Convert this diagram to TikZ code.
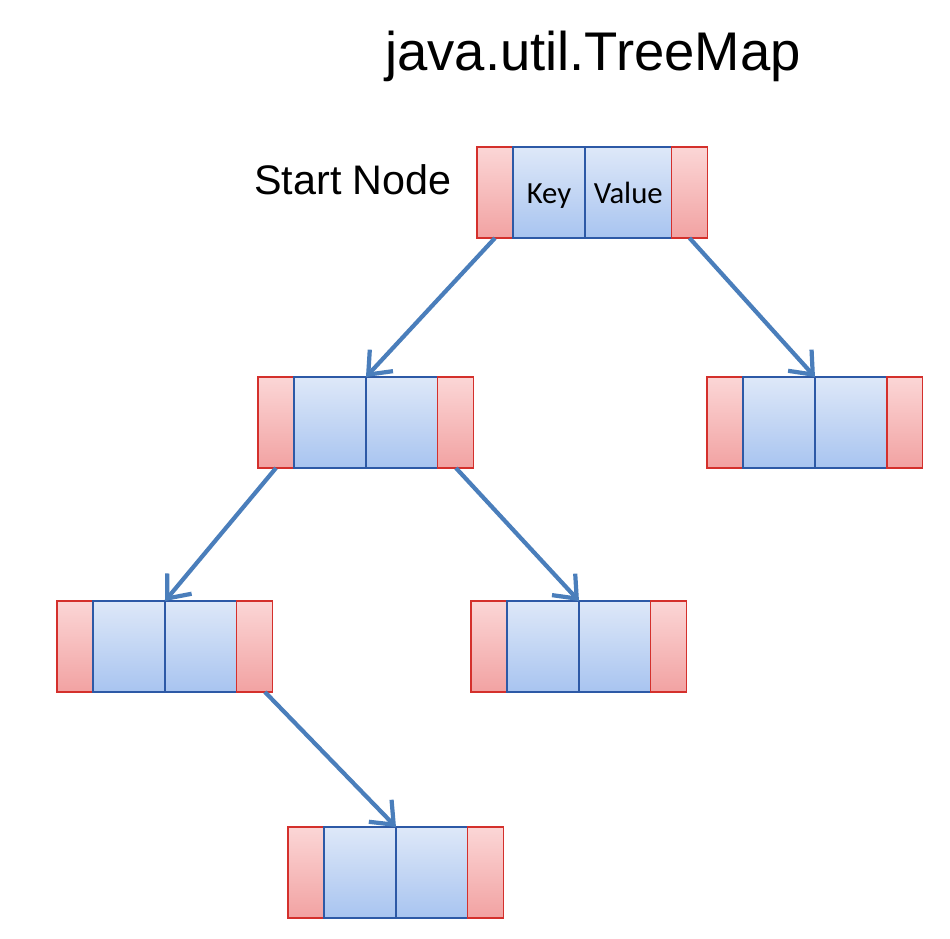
\documentclass[tikz,border=0pt]{standalone}
\usepackage{fontspec}
\setmainfont{Liberation Sans}
\newfontfamily\calibrifont{Carlito}
\usetikzlibrary{positioning, arrows.meta}

\definecolor{cellred}{HTML}{D4302C}
\definecolor{cellblue}{HTML}{2D59A6}
\definecolor{redtop}{HTML}{FBD6D6}
\definecolor{redbot}{HTML}{F2A2A2}
\definecolor{bluetop}{HTML}{DEE8F8}
\definecolor{bluebot}{HTML}{A8C4F0}
\definecolor{linkblue}{HTML}{4A7EBB}

% one map entry: left pointer, key, value, right pointer
\newcommand{\mapnode}[4]{%
	\node[redcell, anchor=north west] (#1-l) at #2 {};
	\node[bluecell, right=0pt of #1-l] (#1-k) {#3};
	\node[bluecell, right=0pt of #1-k] (#1-v) {#4};
	\node[redcell, right=0pt of #1-v] (#1-r) {};
}

\begin{document}
\begin{tikzpicture}[x=0.02cm, y=-0.02cm,
		redcell/.style={rectangle, draw=cellred, line width=0.6pt, outer sep=0pt,
			top color=redtop, bottom color=redbot, minimum width=0.72cm, minimum height=1.82cm},
		bluecell/.style={rectangle, draw=cellblue, line width=0.6pt, outer sep=0pt, inner xsep=5pt,
			top color=bluetop, bottom color=bluebot, minimum width=1.44cm, minimum height=1.82cm,
			text height=14pt, text depth=2pt, font=\calibrifont\fontsize{17.5}{20}\selectfont},
		link/.style={draw=linkblue, line width=2.4pt, -{Straight Barb[length=11pt, width=18pt]}}]
	% \draw[help lines] (0,0) grid (950,938);
	\useasboundingbox (0,0) rectangle (950,938);

	\node (title) at (593,70) [anchor=base] {\fontsize{31}{37}\selectfont java.util.TreeMap};
	\node (start) at (353,194) [anchor=base] {\fontsize{23.5}{28}\selectfont Start Node};

	\mapnode{root}{(477,147)}{Key}{Value}
	\mapnode{a}{(258,377)}{}{}
	\mapnode{b}{(707,377)}{}{}
	\mapnode{c}{(57,601)}{}{}
	\mapnode{d}{(471,601)}{}{}
	\mapnode{e}{(288,827)}{}{}

	\draw[link] (root-l.south) -- (a-k.north east);
	\draw[link] (root-r.south) -- (b-k.north east);
	\draw[link] (a-l.south) -- (c-k.north east);
	\draw[link] (a-r.south) -- (d-k.north east);
	\draw[link] ([xshift=0.2cm]c-r.south) -- (e-k.north east);
\end{tikzpicture}
\end{document}
